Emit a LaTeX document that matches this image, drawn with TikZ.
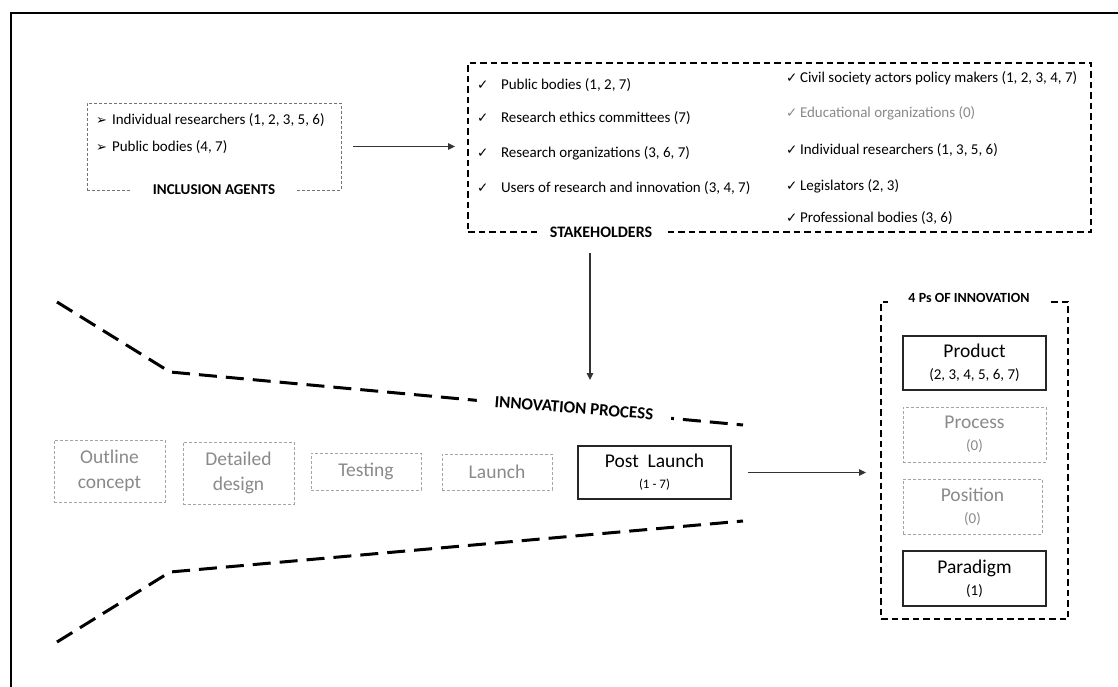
\documentclass[tikz,border=0pt]{standalone}
\usepackage{fontspec}
\setmainfont{Carlito}
\newfontfamily\symfont{DejaVu Sans}
\usetikzlibrary{arrows.meta}
\definecolor{lgray}{HTML}{8A8A8A}
\definecolor{bgray}{HTML}{A5A5A5}
\newcommand\fsRow{\fontsize{15}{18}\selectfont}
\newcommand\fsStage{\fontsize{19.5}{25}\selectfont}
\newcommand\fsSub{\fontsize{15}{18}\selectfont}
\newcommand\fsTiny{\fontsize{13}{15}\selectfont}
\newcommand\chk{{\symfont\fontsize{13.5}{15}\selectfont ✓}}
\newcommand\arrw{{\symfont\fontsize{13}{15}\selectfont ➢}}
\begin{document}
\begin{tikzpicture}[x=1pt,y=-1pt,
  every node/.style={inner sep=0pt, outer sep=0pt},
  graybox/.style={draw=bgray, dash pattern=on 3pt off 2pt, line width=0.9pt, text=lgray, align=center, font=\fsStage},
  blackbox/.style={draw=black!85, line width=1.2pt, align=center, font=\fsStage},
  bigdash/.style={draw=black, dash pattern=on 6.5pt off 4pt, line width=1.6pt},
  finedash/.style={draw=black!55, dash pattern=on 3pt off 2pt, line width=0.9pt},
  funnel/.style={draw=black, dash pattern=on 18pt off 9pt, line width=3pt},
  arr/.style={draw=black!80, line width=1.1pt, -{Triangle[length=7pt,width=6.5pt]}},
  ttl/.style={fill=white, font=\bfseries\fontsize{#1}{18}\selectfont},
  row/.style={anchor=west, font=\fsRow}
]
\useasboundingbox (0,0) rectangle (1118,687);
\fill[white] (0,0) rectangle (1118,687);
% frame
\draw[line width=2pt] (11,687) -- (11,13) -- (1118,13);

% inclusion agents
\node[finedash, minimum width=254pt, minimum height=87pt] (incl) at (214,146.5) {};
\node[ttl=15, inner xsep=22pt, inner ysep=2pt] (incllbl) at (214,190) {INCLUSION AGENTS};
\node[row] (i1) at (96,120) {\makebox[16pt][l]{\arrw}Individual researchers (1, 2, 3, 5, 6)};
\node[row] (i2) at (96,147) {\makebox[16pt][l]{\arrw}Public bodies (4, 7)};

% stakeholders
\node[bigdash, minimum width=623pt, minimum height=169pt] (stake) at (779.5,147.5) {};
\node[ttl=16, inner xsep=13pt, inner ysep=2pt] (stakelbl) at (601,232) {STAKEHOLDERS};
\node[row] (l1) at (477,85) {\makebox[24pt][l]{\chk}Public bodies (1, 2, 7)};
\node[row] (l2) at (477,118) {\makebox[24pt][l]{\chk}Research ethics committees (7)};
\node[row] (l3) at (477,153) {\makebox[24pt][l]{\chk}Research organizations (3, 6, 7)};
\node[row] (l4) at (477,188) {\makebox[24pt][l]{\chk}Users of research and innovation (3, 4, 7)};
\node[row] (r1) at (786,78) {\makebox[14pt][l]{\chk}Civil society actors policy makers (1, 2, 3, 4, 7)};
\node[row, text=lgray] (r2) at (786,113) {\makebox[14pt][l]{\chk}Educational organizations (0)};
\node[row] (r3) at (786,150) {\makebox[14pt][l]{\chk}Individual researchers (1, 3, 5, 6)};
\node[row] (r4) at (786,186) {\makebox[14pt][l]{\chk}Legislators (2, 3)};
\node[row] (r5) at (786,218) {\makebox[14pt][l]{\chk}Professional bodies (3, 6)};

\draw[arr, shorten <=12pt, shorten >=13pt] (incl.east) -- (incl.east -| stake.west);

% funnel
\draw[funnel] (57,302) -- (170,372) -- (743,425);
\draw[funnel] (57,642) -- (170,572) -- (743,521);
\node[ttl=17, rotate=-4.5, inner xsep=18pt, inner ysep=3pt] (proclbl) at (574,408) {INNOVATION PROCESS};

\coordinate (ptip) at (590,380);
\draw[arr, shorten <=21pt] (ptip |- stake.south) -- (ptip);

% stages
\node[graybox, minimum width=111pt, minimum height=62pt] (s1) at (109.5,471) {Outline\\concept};
\node[graybox, minimum width=111pt, minimum height=62pt] (s2) at (238.5,473) {Detailed\\design};
\node[graybox, minimum width=110pt, minimum height=37pt] (s3) at (366,471.5) {Testing};
\node[graybox, minimum width=110pt, minimum height=36pt] (s4) at (497,472) {Launch};
\node[blackbox, minimum width=153pt, minimum height=53pt] (post) at (654.5,472.5) {Post\hspace{0.45em}Launch\\[-4pt]{\fsTiny (1 - 7)}};

% 4 Ps
\node[bigdash, minimum width=187pt, minimum height=317pt] (fourps) at (974.5,460.5) {};
\node[ttl=14, minimum width=163pt, minimum height=14pt] (fourlbl) at (969,298) {4 Ps OF INNOVATION};
\node[blackbox, minimum width=143pt, minimum height=54pt] (p1) at (974.5,363) {Product\\[-3pt]{\fsSub (2, 3, 4, 5, 6, 7)}};
\node[graybox, minimum width=143pt, minimum height=55pt] (p2) at (974.5,434.5) {Process\\[-3pt]{\fsSub (0)}};
\node[graybox, minimum width=139pt, minimum height=55pt] (p3) at (972.5,506.5) {Position\\[-3pt]{\fsSub (0)}};
\node[blackbox, minimum width=143pt, minimum height=55pt] (p4) at (974.5,578.5) {Paradigm\\[-3pt]{\fsSub (1)}};

\draw[arr, shorten <=17pt, shorten >=15pt] (post.east) -- (post.east -| fourps.west);
\end{tikzpicture}
\end{document}
